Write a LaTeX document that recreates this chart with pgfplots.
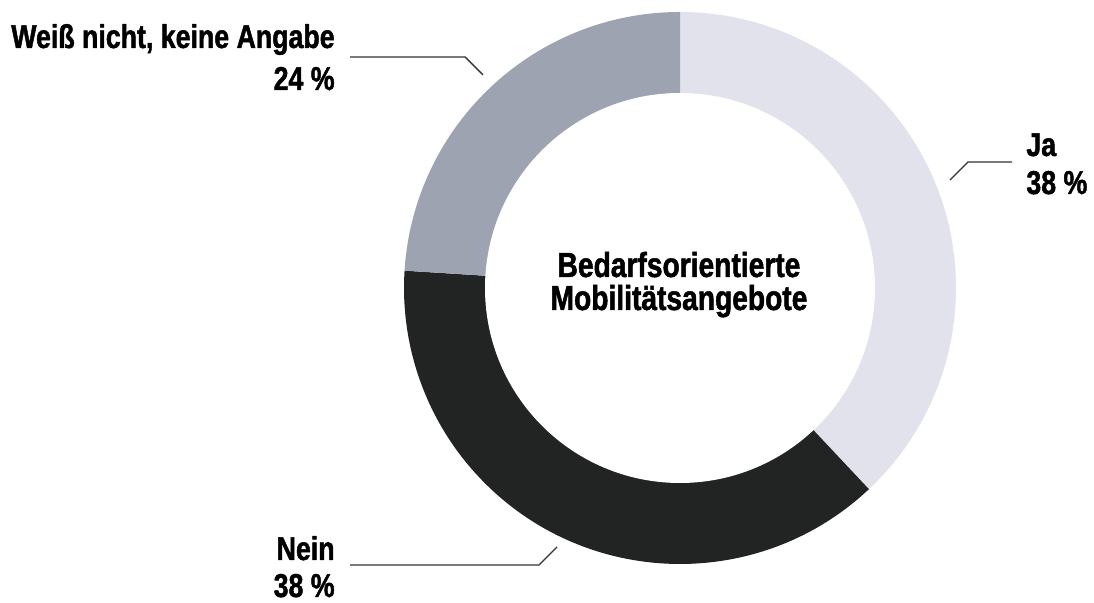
\documentclass[border=0pt]{standalone}
\usepackage{fontspec}
\setmainfont{Liberation Sans}[FakeStretch=0.81, BoldFeatures={FakeBold=1.4}]
\usepackage{pgfplots}
\pgfplotsset{compat=1.18}
\usepackage{pgfplotstable}

\definecolor{cJa}{HTML}{E1E2EC}
\definecolor{cNein}{HTML}{222423}
\definecolor{cWeiss}{HTML}{9EA3B2}
\definecolor{leader}{HTML}{333333}

% shares in percent
\pgfplotstableread{
label value
Ja 38
Nein 38
Weiss 24
}\shares

\begin{document}
\begin{tikzpicture}[lbl/.style={font=\fontsize{16.5}{19}\selectfont\bfseries, inner sep=0pt}]
\pgfplotstablegetelem{0}{value}\of\shares \edef\vJa{\pgfplotsretval}
\pgfplotstablegetelem{1}{value}\of\shares \edef\vNein{\pgfplotsretval}
\pgfplotstablegetelem{2}{value}\of\shares \edef\vWeiss{\pgfplotsretval}
\pgfmathsetmacro\aA{90}
\pgfmathsetmacro\aB{\aA-3.6*\vJa}
\pgfmathsetmacro\aC{\aB-3.6*\vNein}
\pgfmathsetmacro\aD{\aC-3.6*\vWeiss}
\begin{axis}[
  width=547pt, height=301.5pt, scale only axis,
  xmin=0, xmax=1094, ymin=0, ymax=603,
  hide axis, clip=false
]
\path (axis cs:0,0) (axis cs:1094,603);
% ring segments, clockwise from the top
\fill[cJa] (axis cs:680,315) -- ++(\aA:138pt) arc[start angle=\aA, end angle=\aB, radius=138pt] -- cycle;
\fill[cNein] (axis cs:680,315) -- ++(\aB:138pt) arc[start angle=\aB, end angle=\aC, radius=138pt] -- cycle;
\fill[cWeiss] (axis cs:680,315) -- ++(\aC:138pt) arc[start angle=\aC, end angle=\aD, radius=138pt] -- cycle;
\fill[white] (axis cs:680,315) circle[radius=97.5pt];

% centre text
\node[lbl, font=\fontsize{17.4}{20}\selectfont\bfseries, anchor=base] at (axis cs:679,326) {Bedarfsorientierte};
\node[lbl, font=\fontsize{17.4}{20}\selectfont\bfseries, anchor=base] at (axis cs:679,293) {Mobilitätsangebote};

% leaders
\draw[leader, line width=0.7pt] (axis cs:350,546) -- (axis cs:465,546) -- (axis cs:483,528);
\draw[leader, line width=0.7pt] (axis cs:1012,441) -- (axis cs:968,441) -- (axis cs:950,423);
\draw[leader, line width=0.7pt] (axis cs:350,38) -- (axis cs:539,38) -- (axis cs:557,56);

% labels
\node[lbl, anchor=base east] at (axis cs:335,555) {Weiß nicht, keine Angabe};
\node[lbl, anchor=base east] at (axis cs:335,513) {\vWeiss\ \%};
\node[lbl, anchor=base west] at (axis cs:1026,447) {Ja};
\node[lbl, anchor=base west] at (axis cs:1026,409) {\vJa\ \%};
\node[lbl, anchor=base east] at (axis cs:335,43) {Nein};
\node[lbl, anchor=base east] at (axis cs:335,6) {\vNein\ \%};
\end{axis}
\end{tikzpicture}
\end{document}
